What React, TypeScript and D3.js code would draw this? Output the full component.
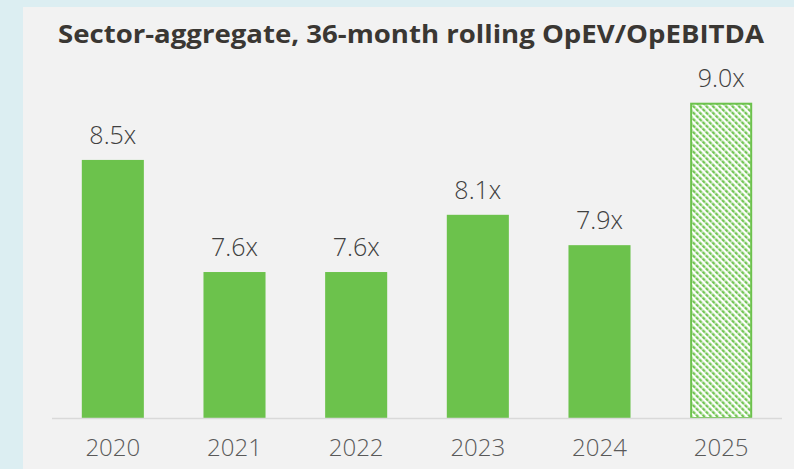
import React from "react";
import * as d3 from "d3";

const categories = ["2020", "2021", "2022", "2023", "2024", "2025"];
const values = [8.51, 7.55, 7.55, 8.04, 7.78, 9.0];
const valueLabels = ["8.5x", "7.6x", "7.6x", "8.1x", "7.9x", "9.0x"];
const hatched = [false, false, false, false, false, true];
const title = "Sector-aggregate, 36-month rolling OpEV/OpEBITDA";

const W = 794;
const H = 469;
const GREEN = "#6CC24C";

export default function App() {
  const x = d3
    .scaleBand<string>()
    .domain(categories)
    .range([52, 782])
    .paddingInner(0.49)
    .paddingOuter(0.245);
  const y = d3.scaleLinear().domain([6.3, 9.0]).range([418, 102.7]);

  return (
    <svg
      width={W}
      height={H}
      style={{ position: "absolute", left: 0, top: 0 }}
      fontFamily="'Open Sans', Lato, sans-serif"
    >
      <defs>
        <pattern
          id="hatch"
          patternUnits="userSpaceOnUse"
          width={4.6}
          height={4.6}
          patternTransform="rotate(-45)"
        >
          <rect width={4.6} height={4.6} fill="#FFFFFF" />
          <line x1={1.2} y1={0} x2={1.2} y2={4.6} stroke={GREEN} strokeWidth={2.2} strokeDasharray="2.4 0.9" />
        </pattern>
      </defs>
      <rect x={0} y={0} width={W} height={H} fill="#DCEEF2" />
      <rect x={23} y={7} width={W - 23} height={H - 7} fill="#F2F2F2" />
      <text
        x={58}
        y={43}
        fontSize={25}
        fontWeight={700}
        fill="#3A3733"
        textLength={706}
        lengthAdjust="spacingAndGlyphs"
      >
        {title}
      </text>
      {categories.map((c, i) => {
        const bx = x(c) as number;
        const bw = x.bandwidth();
        const top = y(values[i]);
        const bottom = y(6.3);
        return (
          <g key={c}>
            {hatched[i] ? (
              <rect
                x={bx + 1}
                y={top + 1}
                width={bw - 2}
                height={bottom - top - 1}
                fill="url(#hatch)"
                stroke={GREEN}
                strokeWidth={2}
              />
            ) : (
              <rect x={bx} y={top} width={bw} height={bottom - top} fill={GREEN} />
            )}
            <text
              x={bx + bw / 2}
              y={top - 16}
              textAnchor="middle"
              fontSize={25}
              fontWeight={300}
              fill="#404040"
            >
              {valueLabels[i]}
            </text>
            <text
              x={bx + bw / 2}
              y={456}
              textAnchor="middle"
              fontSize={24}
              fontWeight={300}
              fill="#595959"
            >
              {c}
            </text>
          </g>
        );
      })}
      <line x1={52} x2={782} y1={418.5} y2={418.5} stroke="#D9D9D9" strokeWidth={1.5} />
    </svg>
  );
}
